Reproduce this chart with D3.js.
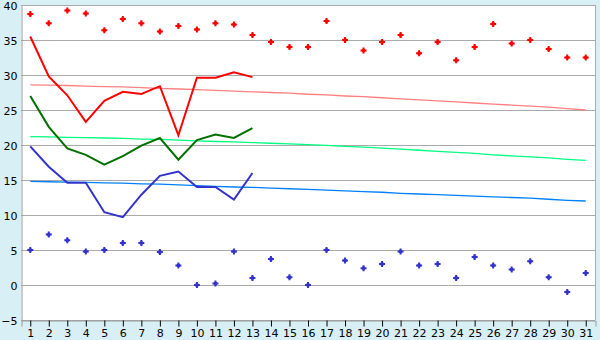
<!DOCTYPE html>
<html>
<head>
<meta charset="utf-8">
<script src="https://cdn.jsdelivr.net/npm/d3@7"></script>
<style>
  html, body { margin: 0; padding: 0; background: #d9eff6; }
  svg { display: block; }
  text { font-family: "DejaVu Sans", sans-serif; font-size: 11px; fill: #000; }
</style>
</head>
<body>
<svg id="chart" width="600" height="340"></svg>
<script>
// days of the month
const days = d3.range(1, 32);

// daily max / min (diamonds)
const dailyMax = [38.7, 37.4, 39.2, 38.8, 36.4, 38.0, 37.4, 36.2, 37.0, 36.5,
  37.4, 37.2, 35.7, 34.7, 34.0, 34.0, 37.7, 35.0, 33.5, 34.7,
  35.7, 33.1, 34.7, 32.1, 34.0, 37.3, 34.5, 35.0, 33.7, 32.5, 32.5];
const dailyMin = [5.0, 7.2, 6.4, 4.8, 5.0, 6.0, 6.0, 4.7, 2.8, 0.0,
  0.2, 4.8, 1.0, 3.7, 1.1, 0.0, 5.0, 3.5, 2.4, 3.0,
  4.8, 2.8, 3.0, 1.0, 4.0, 2.8, 2.2, 3.4, 1.1, -1.0, 1.7];

// current year (days 1-13)
const maxLine = [35.5, 29.8, 27.1, 23.3, 26.3, 27.6, 27.3, 28.4, 21.4, 29.6, 29.6, 30.4, 29.7];
const meanLine = [27.0, 22.6, 19.5, 18.6, 17.2, 18.4, 19.9, 21.0, 17.9, 20.7, 21.5, 21.0, 22.4];
const minLine = [19.8, 16.9, 14.6, 14.6, 10.4, 9.7, 12.9, 15.6, 16.2, 14.0, 14.0, 12.2, 16.0];

// normals
const normMax = [28.6, 28.55, 28.5, 28.4, 28.35, 28.3, 28.2, 28.1, 28.0, 27.9,
  27.8, 27.7, 27.6, 27.5, 27.4, 27.25, 27.15, 27.0, 26.9, 26.75,
  26.6, 26.45, 26.3, 26.15, 26.0, 25.85, 25.7, 25.55, 25.4, 25.2, 25.0];
const normMean = [21.2, 21.15, 21.1, 21.05, 21.0, 20.95, 20.85, 20.8, 20.7, 20.6,
  20.5, 20.45, 20.35, 20.25, 20.15, 20.05, 19.95, 19.8, 19.7, 19.55,
  19.4, 19.25, 19.1, 18.95, 18.8, 18.6, 18.45, 18.3, 18.15, 17.95, 17.8];
const normMin = [14.8, 14.75, 14.7, 14.65, 14.6, 14.55, 14.45, 14.4, 14.3, 14.2,
  14.1, 14.0, 13.95, 13.85, 13.75, 13.65, 13.55, 13.45, 13.35, 13.25,
  13.1, 13.0, 12.9, 12.8, 12.7, 12.6, 12.5, 12.4, 12.25, 12.1, 12.0];

const yTicks = [-5, 0, 5, 10, 15, 20, 25, 30, 35, 40];

const plotL = 21, plotR = 595, plotT = 5, plotB = 320;
const svg = d3.select('#chart');

const x = d3.scaleBand().domain(days).range([plotL, plotR]);
const cx = d => x(d) + x.bandwidth() / 2;
const y = d3.scaleLinear().domain([-5, 40]).range([plotB, plotT]);

// plot area
svg.append('rect')
  .attr('x', plotL).attr('y', plotT)
  .attr('width', plotR - plotL).attr('height', plotB - plotT)
  .attr('fill', '#fff');

// grid
svg.append('g').selectAll('line').data(yTicks).join('line')
  .attr('x1', plotL).attr('x2', plotR)
  .attr('y1', d => Math.round(y(d)) + 0.5).attr('y2', d => Math.round(y(d)) + 0.5)
  .attr('stroke', '#aaa').attr('stroke-width', 1);

svg.append('line')
  .attr('x1', plotR + 0.5).attr('x2', plotR + 0.5).attr('y1', plotT).attr('y2', plotB)
  .attr('stroke', '#aaa');

// y axis
const yAxis = svg.append('g').attr('transform', `translate(${plotL + 0.5},0.5)`)
  .call(d3.axisLeft(y).tickValues(yTicks).tickSize(0).tickPadding(4));
yAxis.select('.domain').attr('stroke', '#999');
yAxis.selectAll('text').style('font-size', '11px').attr('fill', '#000');

// x axis
const xAxis = svg.append('g').attr('transform', `translate(0.5,${plotB + 0.5})`)
  .call(d3.axisBottom(x).tickSize(6).tickPadding(3));
xAxis.select('.domain').attr('stroke', '#999');
xAxis.selectAll('.tick line').attr('stroke', '#000');
xAxis.selectAll('text').style('font-size', '11px').attr('fill', '#000');

// normals
const normals = [
  { data: normMax, color: '#ff8080' },
  { data: normMean, color: '#00ff80' },
  { data: normMin, color: '#0080ff' }
];
normals.forEach(s => {
  svg.append('path')
    .datum(s.data)
    .attr('fill', 'none')
    .attr('stroke', s.color)
    .attr('stroke-width', 1.3)
    .attr('d', d3.line().x((d, i) => cx(days[i])).y(d => y(d)));
});

// current lines
const lines = [
  { data: maxLine, color: '#ff0000' },
  { data: meanLine, color: '#007000' },
  { data: minLine, color: '#3333cc' }
];
lines.forEach(s => {
  svg.append('path')
    .datum(s.data)
    .attr('fill', 'none')
    .attr('stroke', s.color)
    .attr('stroke-width', 2)
    .attr('d', d3.line().x((d, i) => cx(days[i])).y(d => y(d)));
});

// markers: plus arms over a small square
const cross = d3.symbol().type(d3.symbolCross).size(20);
const box = d3.symbol().type(d3.symbolSquare).size(10);
[{ data: dailyMax, color: '#ff0000' }, { data: dailyMin, color: '#3333cc' }].forEach(s => {
  const m = svg.append('g').selectAll('g').data(s.data).join('g')
    .attr('transform', (d, i) => `translate(${cx(days[i])},${y(d)})`)
    .attr('fill', s.color);
  m.append('path').attr('d', box);
  m.append('path').attr('d', cross);
});
</script>
</body>
</html>
